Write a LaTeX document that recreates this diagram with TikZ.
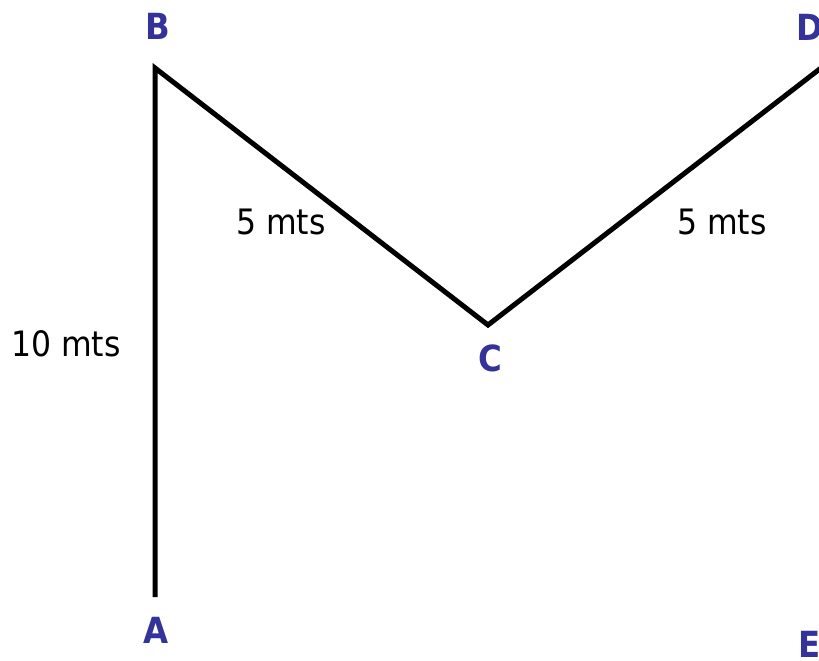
\documentclass[tikz,border=0pt]{standalone}
\usepackage{fontspec}
\setmainfont{DejaVu Sans Condensed}
\usepackage{tikz}

\definecolor{ptblue}{HTML}{333399}

\begin{document}
\begin{tikzpicture}[x=1pt,y=-1pt]
        \tikzset{PointStyle/.style={text=ptblue, font=\fontsize{36}{40}\selectfont\bfseries, inner sep=0pt},
        DistStyle/.style={font=\fontsize{35}{40}\selectfont, inner sep=0pt},
        PathStyle/.style={line width=5pt, black}}
        \clip (0,0) rectangle (819,661);
        % corners of the path
        \coordinate (A) at (155,597);
        \coordinate (B) at (155,68);
        \coordinate (C) at (488,325);
        \coordinate (D) at (821,68);
        \node[PointStyle] (labA) at (156,630) {A};
        \node[PointStyle] (labB) at (158,26) {B};
        \node[PointStyle] (labC) at (490,358) {C};
        \node[PointStyle] (labD) at (810,27) {D};
        \node[PointStyle] (labE) at (810,644) {E};
        \draw[PathStyle] (A) -- (B) -- (C) -- (D);
        \node[DistStyle] (AB) at (66,344) {10 mts};
        \node[DistStyle] (BC) at (281,222) {5 mts};
        \node[DistStyle] (CD) at (722,222) {5 mts};
    \end{tikzpicture}
\end{document}
